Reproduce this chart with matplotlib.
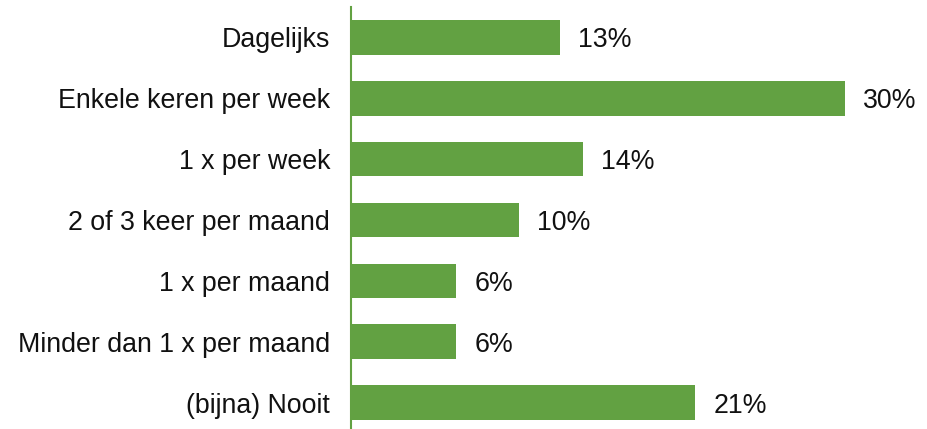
import matplotlib.pyplot as plt

plt.rcParams["font.family"] = ["Liberation Sans", "DejaVu Sans"]

categories = [
    "Dagelijks",
    "Enkele keren per week",
    "1 x per week",
    "2 of 3 keer per maand",
    "1 x per maand",
    "Minder dan 1 x per maand",
    "(bijna) Nooit",
]
values = [12.7, 30.0, 14.1, 10.2, 6.4, 6.4, 20.9]

GREEN = "#62A142"

fig = plt.figure(figsize=(9.28, 4.29), dpi=100)
ax = fig.add_axes([351 / 928, -4 / 429, (845 - 351) / 928, 426 / 429])

pos = list(range(len(categories)))
ax.barh(pos, values, height=0.57, color=GREEN)
ax.set_ylim(len(categories) - 0.5, -0.5)
ax.set_xlim(0, 30)

ax.set_yticks(pos)
ax.set_yticklabels(categories, fontsize=19.3, color="#111111")
ax.tick_params(axis="y", length=0, pad=15)
ax.set_xticks([])

for s in ["top", "right", "bottom"]:
    ax.spines[s].set_visible(False)
ax.spines["left"].set_color(GREEN)
ax.spines["left"].set_linewidth(1.5)

for p, v in zip(pos, values):
    ax.text(v + 1.1, p, f"{round(v)}%", va="center_baseline", ha="left",
            fontsize=19.3, color="#111111", clip_on=False)

fig.savefig("out.png", dpi=100)
